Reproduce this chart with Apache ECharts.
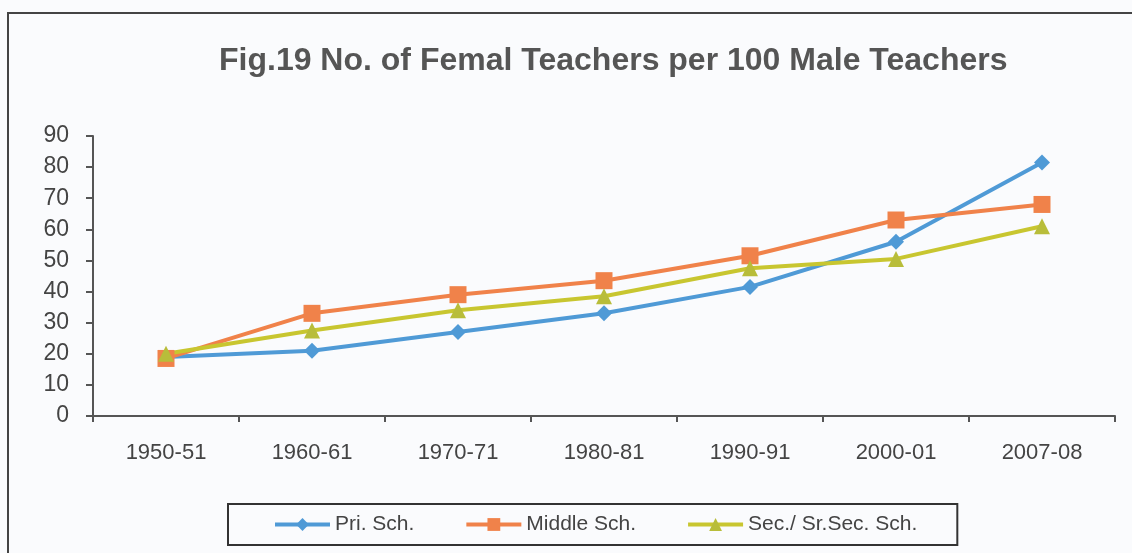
<!DOCTYPE html>
<html>
<head>
<meta charset="utf-8">
<script src="https://cdn.jsdelivr.net/npm/echarts@6/dist/echarts.min.js"></script>
<style>
  html, body { margin: 0; padding: 0; background: #fafbfd; }
  #chart { width: 1132px; height: 553px; }
</style>
</head>
<body>
<div id="chart"></div>
<script>
// 数据
var yearLabels = ['1950-51', '1960-61', '1970-71', '1980-81', '1990-91', '2000-01', '2007-08'];
var priSch = [19, 21, 27, 33, 41.5, 56, 81.5];
var middleSch = [18.5, 33, 39, 43.5, 51.5, 63, 68];
var secSch = [20, 27.5, 34, 38.5, 47.5, 50.5, 61];
var seriesNames = ['Pri. Sch.', 'Middle Sch.', 'Sec./ Sr.Sec. Sch.'];

var chart = echarts.init(document.getElementById('chart'));

var option = {
    backgroundColor: '#fafbfd',
    animation: false,
    title: {
        text: 'Fig.19 No. of Femal Teachers per 100 Male Teachers',
        left: 214,
        top: 40,
        textStyle: {
            color: '#555555',
            fontSize: 32,
            fontWeight: 'bold',
            fontFamily: 'Liberation Sans'
        }
    },
    graphic: [{
        type: 'rect',
        shape: { x: 8, y: 13, width: 1140, height: 560 },
        style: { fill: 'none', stroke: '#444', lineWidth: 2 }
    }],
    legend: {
        bottom: 8,
        left: 228,
        itemWidth: 55,
        itemHeight: 16,
        itemGap: 50,
        padding: [10, 40, 10, 45],
        borderColor: '#333',
        borderWidth: 2,
        lineStyle: { width: 4 },
        textStyle: {
            color: '#444',
            fontSize: 21,
            fontFamily: 'Liberation Sans'
        },
        data: seriesNames
    },
    grid: {
        left: 93,
        right: 17,
        top: 136,
        bottom: 137
    },
    xAxis: {
        type: 'category',
        data: yearLabels,
        boundaryGap: true,
        axisLine: { lineStyle: { color: '#555', width: 2 } },
        axisTick: { show: true, length: 6, lineStyle: { color: '#555', width: 2 } },
        axisLabel: {
            color: '#444',
            fontSize: 22,
            margin: 26,
            fontFamily: 'Liberation Sans'
        }
    },
    yAxis: {
        type: 'value',
        min: 0,
        max: 90,
        interval: 10,
        axisLine: { show: true, lineStyle: { color: '#555', width: 2 } },
        axisTick: { show: true, length: 7, lineStyle: { color: '#555', width: 2 } },
        splitLine: { show: false },
        axisLabel: {
            color: '#444',
            fontSize: 23,
            margin: 24,
            fontFamily: 'Liberation Sans'
        }
    },
    series: [{
        name: 'Pri. Sch.',
        type: 'line',
        data: priSch,
        symbol: 'diamond',
        symbolSize: 16,
        lineStyle: { color: '#4f9ad6', width: 4 },
        itemStyle: { color: '#4f9ad6' }
    }, {
        name: 'Middle Sch.',
        type: 'line',
        data: middleSch,
        symbol: 'rect',
        symbolSize: 17,
        lineStyle: { color: '#f0824a', width: 4 },
        itemStyle: { color: '#f0824a' }
    }, {
        name: 'Sec./ Sr.Sec. Sch.',
        type: 'line',
        data: secSch,
        symbol: 'triangle',
        symbolSize: 16,
        lineStyle: { color: '#c8c630', width: 4 },
        itemStyle: { color: '#b8bd3a' }
    }]
};

chart.setOption(option);
</script>
</body>
</html>
